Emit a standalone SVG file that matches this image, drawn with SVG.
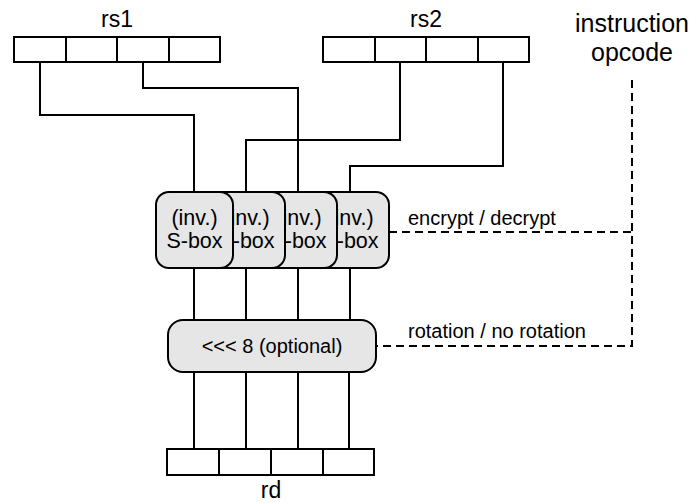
<svg xmlns="http://www.w3.org/2000/svg" width="692" height="503" viewBox="0 0 692 503">
<style>
text{font-family:"Liberation Sans",Arial,sans-serif;fill:#000}
.lbl{font-size:23px}
.big{font-size:25px}
.box{font-size:21.5px}
.rot{font-size:20px}
.sm{font-size:20px}
.cell{fill:#fff;stroke:#000;stroke-width:2}
.node{fill:#e6e6e6;stroke:#000;stroke-width:2}
.wire{fill:none;stroke:#000;stroke-width:2}
.dash{fill:none;stroke:#000;stroke-width:2;stroke-dasharray:8 5}
</style>
<g id="rs1">
<rect class="cell" x="14" y="37" width="206" height="25"/>
<path class="wire" d="M66 37V62M117 37V62M169 37V62"/>
<text class="lbl" x="117" y="27" text-anchor="middle">rs1</text>
</g>
<g id="rs2">
<rect class="cell" x="323" y="37" width="206" height="25"/>
<path class="wire" d="M375 37V62M426 37V62M478 37V62"/>
<text class="lbl" x="426" y="27" text-anchor="middle">rs2</text>
</g>
<g id="opcode">
<text class="big" x="632" y="32" text-anchor="middle">instruction</text>
<text class="big" x="632" y="61" text-anchor="middle">opcode</text>
</g>
<g id="connectors">
<path class="wire" d="M40 62V115H194V192"/>
<path class="wire" d="M143 62V88H298V192"/>
<path class="wire" d="M400 62V140H246V192"/>
<path class="wire" d="M503 62V166H350V192"/>
<path class="wire" d="M194 268V320M246 268V320M298 268V320M350 268V320"/>
<path class="wire" d="M194 372V449M246 372V449M298 372V449M349 372V449"/>
<path class="dash" d="M632 80V346H376"/>
<path class="dash" d="M389 232H632"/>
<text class="sm" x="408" y="225">encrypt / decrypt</text>
<text class="sm" x="408" y="338">rotation / no rotation</text>
</g>
<g id="sbox4">
<rect class="node" x="312" y="192" width="77" height="76" rx="13"/>
<text class="box" x="350.5" y="225" text-anchor="middle">(inv.)</text>
<text class="box" x="350.5" y="248" text-anchor="middle">S-box</text>
</g>
<g id="sbox3">
<rect class="node" x="260" y="192" width="77" height="76" rx="13"/>
<text class="box" x="298.5" y="225" text-anchor="middle">(inv.)</text>
<text class="box" x="298.5" y="248" text-anchor="middle">S-box</text>
</g>
<g id="sbox2">
<rect class="node" x="208" y="192" width="77" height="76" rx="13"/>
<text class="box" x="246.5" y="225" text-anchor="middle">(inv.)</text>
<text class="box" x="246.5" y="248" text-anchor="middle">S-box</text>
</g>
<g id="sbox1">
<rect class="node" x="156" y="192" width="77" height="76" rx="13"/>
<text class="box" x="194.5" y="225" text-anchor="middle">(inv.)</text>
<text class="box" x="194.5" y="248" text-anchor="middle">S-box</text>
</g>
<g id="rotate">
<rect class="node" x="168" y="320" width="208" height="52" rx="15"/>
<text class="rot" x="272" y="353" text-anchor="middle">&lt;&lt;&lt; 8 (optional)</text>
</g>
<g id="rd">
<rect class="cell" x="167" y="449" width="207" height="26"/>
<path class="wire" d="M219 449V475M271 449V475M323 449V475"/>
<text class="lbl" x="271" y="498" text-anchor="middle">rd</text>
</g>
</svg>
